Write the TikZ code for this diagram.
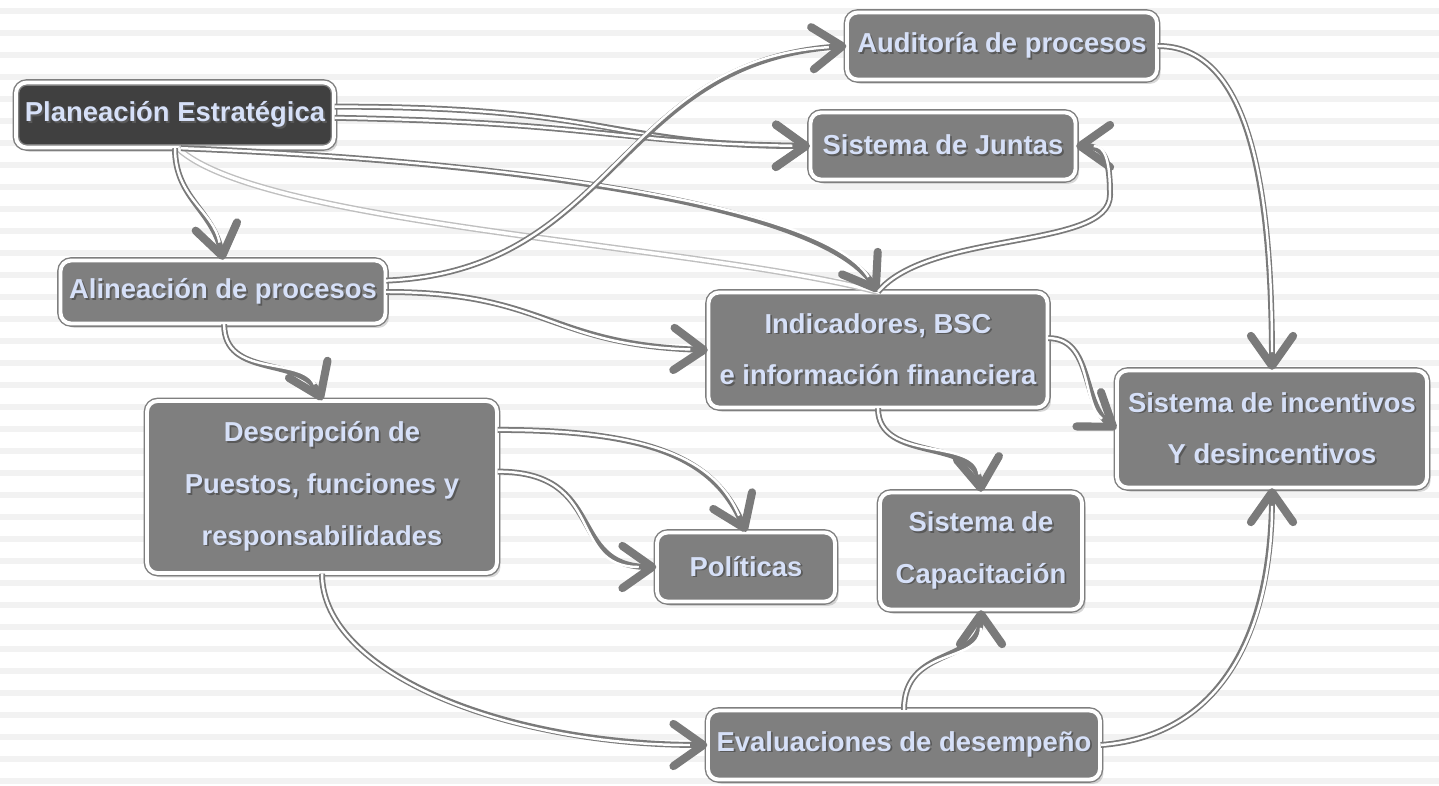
\documentclass[tikz,border=0pt]{standalone}
\usepackage{fontspec}
\setmainfont{Liberation Sans}
\usepackage{tikz}
\usetikzlibrary{arrows.meta,shadows}
\definecolor{boxgray}{HTML}{7F7F7F}
\definecolor{darkbox}{HTML}{404040}
\definecolor{txtcol}{HTML}{D6E0F8}
\definecolor{stripecol}{HTML}{F2F2F2}
\definecolor{linegray}{HTML}{7A7A7A}
\newcommand{\sh}[1]{\leavevmode\rlap{\hspace{1pt}\raisebox{-1pt}{\textcolor{black!65}{#1}}}#1}

\begin{document}
\begin{tikzpicture}[x=0.02cm,y=-0.02cm,
    box/.style={rounded corners=6pt,fill=boxgray,draw=boxgray,double=white,
        double distance=2.2pt,line width=0.8pt,text=txtcol,align=center,inner sep=0pt,
        font=\fontsize{15.6}{29.5}\selectfont\bfseries,
        drop shadow={shadow xshift=2pt,shadow yshift=-2.5pt,opacity=0.3}},
    conn/.style={draw=linegray,line width=3.4pt,
        -{Straight Barb[length=17pt,width=24pt,line width=4.6pt,round]},
        postaction={draw=white,line width=1.4pt,-,shorten >=10pt}},
    ghost/.style={draw=black!25,line width=3.6pt,
        postaction={draw=white,line width=2pt}}]
    \useasboundingbox (0,0) rectangle (1439,785);
    \fill[white] (0,0) rectangle (1439,785);
        \foreach \k in {0,1,...,35}{
          \fill[stripecol] (0,{8+22*\k}) rectangle (1439,{14+22*\k});
          }

        % boxes
        \node[box,fill=darkbox,minimum width=6.36cm,minimum height=1.3cm] (plan) at (175,115) {\sh{Planeación Estratégica}};
        \node[box,minimum width=6.2cm,minimum height=1.34cm] (audit) at (1002,46) {\sh{Auditoría de procesos}};
        \node[box,minimum width=5.3cm,minimum height=1.34cm] (juntas) at (943,146) {\sh{Sistema de Juntas}};
        \node[box,minimum width=6.5cm,minimum height=1.26cm] (alin) at (223,292) {\sh{Alineación de procesos}};
        \node[box,minimum width=6.78cm,minimum height=2.3cm] (indic) at (878,350) {\sh{Indicadores, BSC}\\\sh{e información financiera}};
        \node[box,minimum width=6.2cm,minimum height=2.34cm] (incent) at (1272,429) {\sh{Sistema de incentivos}\\\sh{Y desincentivos}};
        \node[box,minimum width=7cm,minimum height=3.44cm] (descr) at (322,487) {\sh{Descripción de}\\\sh{Puestos, funciones y}\\\sh{responsabilidades}};
        \node[box,minimum width=3.56cm,minimum height=1.38cm] (polit) at (746,567) {\sh{Políticas}};
        \node[box,minimum width=4.04cm,minimum height=2.34cm] (capac) at (981,551) {\sh{Sistema de}\\\sh{Capacitación}};
        \node[box,minimum width=7.84cm,minimum height=1.38cm] (eval) at (904,745) {\sh{Evaluaciones de desempeño}};

        % connectors
        \draw[ghost] (plan.-85) .. controls (260,225) and (700,245) .. (indic.north);
        \draw[conn] (plan.-80) .. controls (480,160) and (820,200) .. (indic.north);
        \draw[conn] (plan.south) .. controls +(0,50) and +(-10,-50) .. (alin.north);
        \draw[conn] (plan.3) .. controls +(280,0) and +(-200,0) .. (juntas.west);
        \draw[conn] (plan.-1) .. controls +(270,5) and +(-200,-3) .. (juntas.west);
        \draw[conn] (alin.4) .. controls +(230,-10) and +(-230,15) .. (audit.west);
        \draw[conn] (alin.east) .. controls +(160,0) and +(-160,-5) .. (indic.west);
        \draw[conn] (alin.-88) .. controls +(0,55) and +(-20,-45) .. (descr.north);
        \draw[conn] (indic.north) .. controls (930,230) and (1110,250) .. (1110,195) .. controls (1110,160) and (1105,146) .. (juntas.east);
        \draw[conn] (audit.east) .. controls +(80,0) and +(0,-220) .. (incent.north);
        \draw[conn] (indic.4) .. controls +(45,0) and +(-35,-25) .. (incent.west);
        \draw[conn] (indic.south) .. controls +(0,55) and +(-5,-55) .. (capac.north);
        \draw[conn] (descr.18) .. controls +(160,0) and +(-30,-70) .. (polit.north);
        \draw[conn] (descr.5) .. controls +(110,0) and +(-90,0) .. (polit.west);
        \draw[conn] (descr.south) .. controls +(0,100) and +(-200,0) .. (eval.west);
        \draw[conn] (eval.north) .. controls +(0,-65) and +(0,55) .. (capac.south);
        \draw[conn] (eval.east) .. controls +(130,-10) and +(0,130) .. (incent.south);

    \end{tikzpicture}
\end{document}
